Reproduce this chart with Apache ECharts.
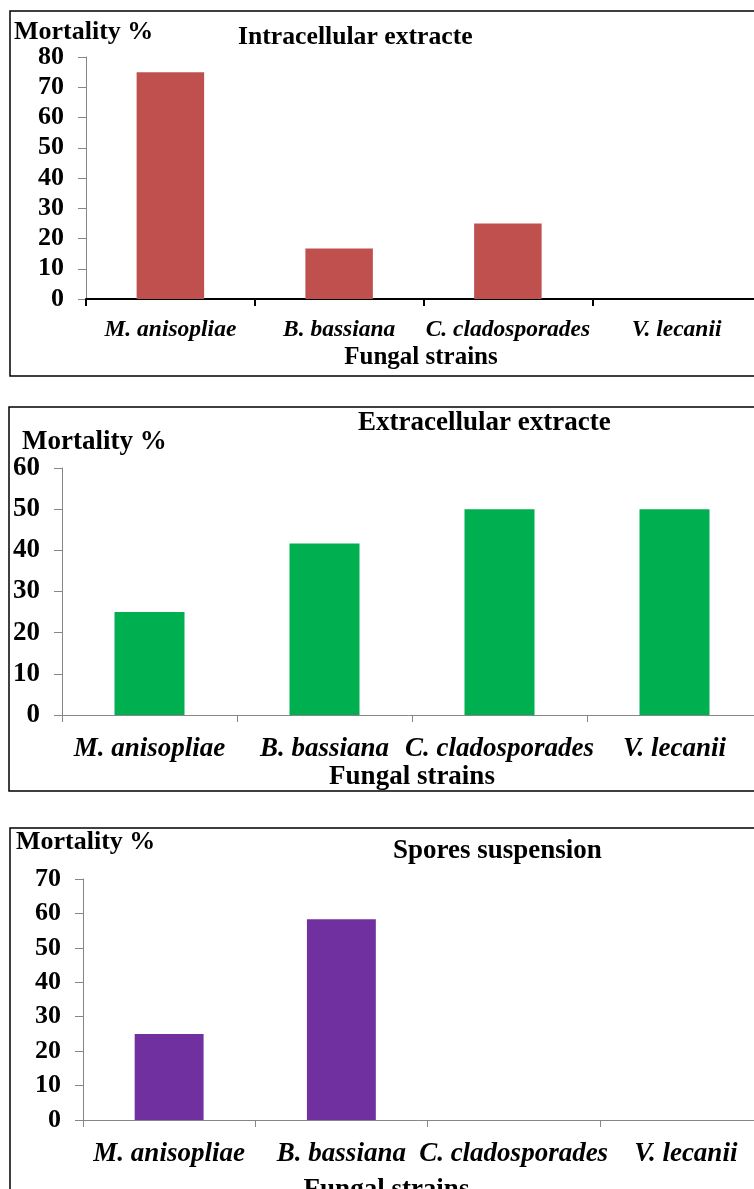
<!DOCTYPE html>
<html>
<head>
<meta charset="utf-8">
<script src="https://cdn.jsdelivr.net/npm/echarts@6/dist/echarts.min.js"></script>
<style>
html,body{margin:0;padding:0;background:#fff;}
#chart{width:754px;height:1189px;}
</style>
</head>
<body>
<div id="chart"></div>
<script>
var categories = ['M. anisopliae', 'B. bassiana', 'C. cladosporades', 'V. lecanii'];
var intracellular = [75, 16.67, 25, 0];
var extracellular = [25, 41.67, 50, 50];
var spores = [25, 58.33, 0, 0];
var panelTitles = ['Intracellular extracte', 'Extracellular extracte', 'Spores suspension'];
var yAxisTitle = 'Mortality %';
var xAxisTitle = 'Fungal strains';
var yMax = [80, 60, 70];

var FONT = '"Liberation Serif", "Times New Roman", serif';
var chart = echarts.init(document.getElementById('chart'), null, {renderer: 'canvas'});

function yAx(gi, max, fs) {
  return {
    type: 'value', gridIndex: gi, min: 0, max: max, interval: 10,
    axisLine: {show: true, lineStyle: {color: '#868686', width: 1}},
    axisTick: {show: true, length: 8, lineStyle: {color: '#868686'}},
    splitLine: {show: false},
    axisLabel: {margin: 22, color: '#000', fontFamily: FONT, fontWeight: 'bold', fontSize: fs}
  };
}
function xAx(gi, lineColor, lineWidth, fs, nfs, margin, nameGap, namePad) {
  return {
    type: 'category', gridIndex: gi, data: categories, boundaryGap: true,
    axisLine: {show: true, lineStyle: {color: lineColor, width: lineWidth}},
    axisTick: {show: true, length: 7, lineStyle: {color: lineColor, width: lineWidth}},
    axisLabel: {margin: margin, color: '#000', fontFamily: FONT, fontWeight: 'bold', fontStyle: 'italic', fontSize: fs, interval: 0, hideOverlap: false},
    name: xAxisTitle, nameLocation: 'middle', nameGap: nameGap,
    nameTextStyle: {color: '#000', fontFamily: FONT, fontWeight: 'bold', fontSize: nfs, padding: namePad}
  };
}
function ttl(text, left, top, fs) {
  return {text: text, left: left, top: top, padding: 0,
    textStyle: {color: '#000', fontFamily: FONT, fontWeight: 'bold', fontSize: fs}};
}

var option = {
  animation: false,
  backgroundColor: '#fff',
  title: [
    ttl(yAxisTitle, 14, 19, 26),
    ttl(panelTitles[0], 238, 24, 25.7),
    ttl(yAxisTitle, 22, 429, 27),
    ttl(panelTitles[1], 358, 410, 27),
    ttl(yAxisTitle, 16, 829, 26),
    ttl(panelTitles[2], 393, 838, 27)
  ],
  graphic: [
    {type: 'rect', shape: {x: 10, y: 11, width: 760, height: 365}, style: {fill: 'none', stroke: '#000', lineWidth: 1.5}, silent: true},
    {type: 'rect', shape: {x: 9, y: 407, width: 760, height: 384}, style: {fill: 'none', stroke: '#000', lineWidth: 1.5}, silent: true},
    {type: 'rect', shape: {x: 10, y: 828, width: 760, height: 400}, style: {fill: 'none', stroke: '#000', lineWidth: 1.5}, silent: true}
  ],
  grid: [
    {left: 86, top: 57, height: 242, width: 675, outerBoundsMode: 'none', containLabel: false},
    {left: 62, top: 468, height: 247, width: 700, outerBoundsMode: 'none', containLabel: false},
    {left: 83, top: 879, height: 241, width: 689, outerBoundsMode: 'none', containLabel: false}
  ],
  xAxis: [
    xAx(0, '#000', 2, 23.5, 25, 19, 46, [0, 5, 0, 0]),
    xAx(1, '#868686', 1, 27, 27, 20.5, 48.5, [0, 0, 0, 0]),
    xAx(2, '#868686', 1, 27, 27, 21, 57, [0, 82, 0, 0])
  ],
  yAxis: [
    yAx(0, yMax[0], 26),
    yAx(1, yMax[1], 27),
    yAx(2, yMax[2], 26)
  ],
  series: [
    {type: 'bar', xAxisIndex: 0, yAxisIndex: 0, data: intracellular, barWidth: '40%', itemStyle: {color: '#C0504D'}},
    {type: 'bar', xAxisIndex: 1, yAxisIndex: 1, data: extracellular, barWidth: '40%', itemStyle: {color: '#00B050'}},
    {type: 'bar', xAxisIndex: 2, yAxisIndex: 2, data: spores, barWidth: '40%', itemStyle: {color: '#7030A0'}}
  ]
};
chart.setOption(option);
</script>
</body>
</html>
